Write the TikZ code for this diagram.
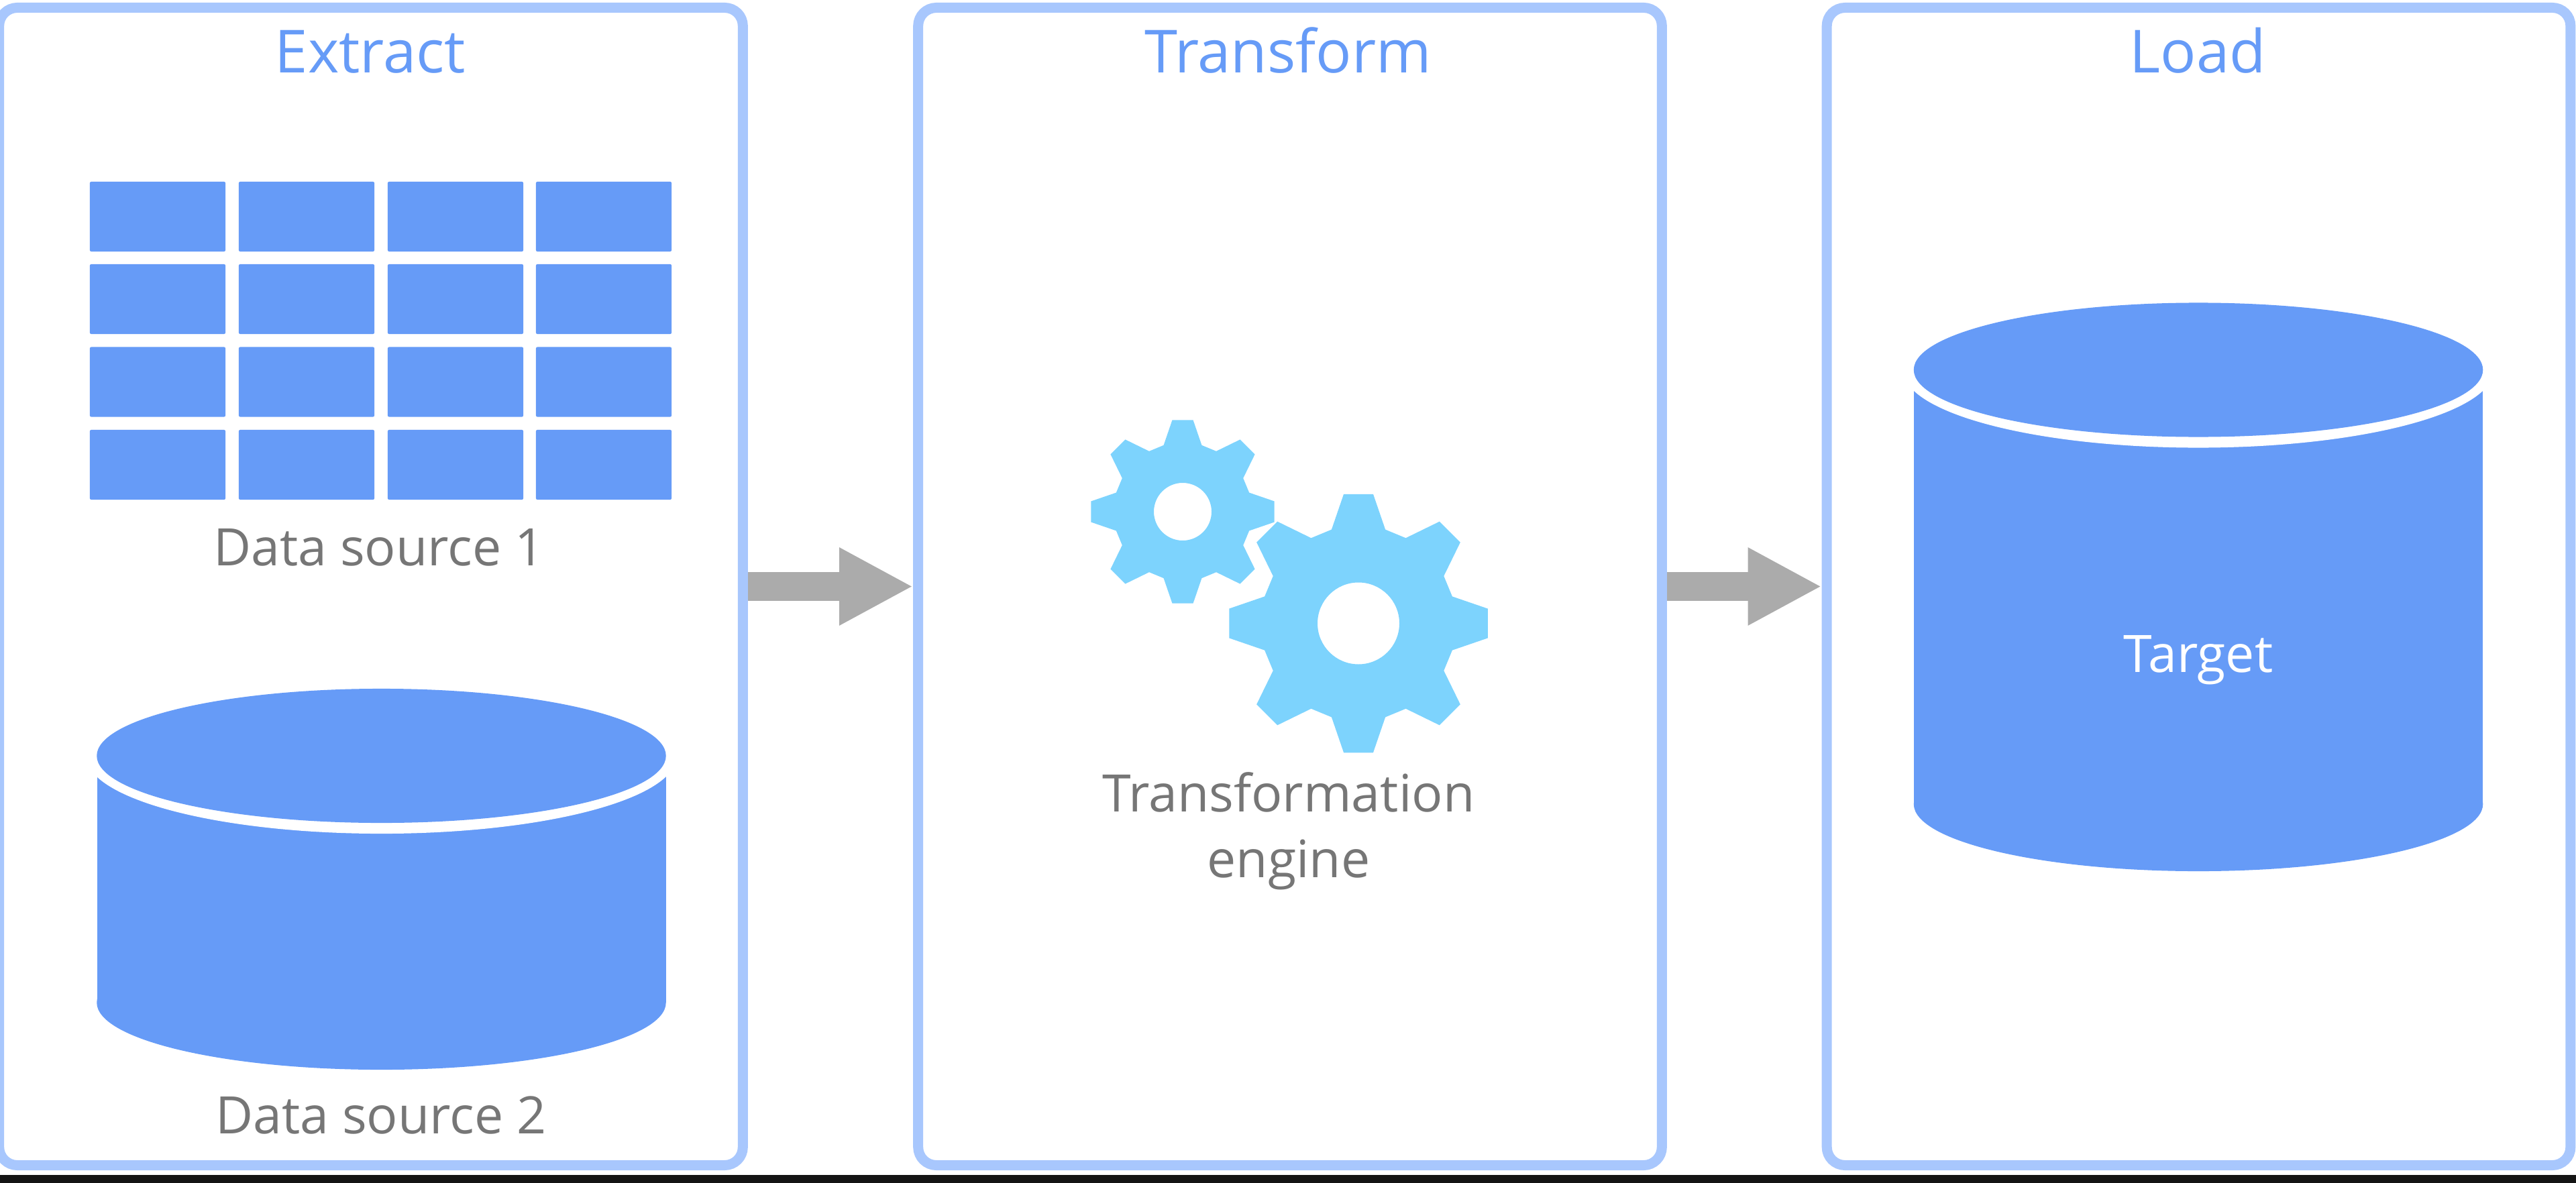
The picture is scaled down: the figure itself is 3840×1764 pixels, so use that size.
\documentclass[tikz,border=0pt]{standalone}
\usepackage{fontspec}
\setmainfont{Open Sans}
\usetikzlibrary{arrows.meta}
\definecolor{panelblue}{HTML}{A8C7FD}
\definecolor{fillblue}{HTML}{669BF7}
\definecolor{gearblue}{HTML}{7DD3FD}
\definecolor{arrowgray}{HTML}{ABABAB}
\definecolor{labelgray}{HTML}{767676}
\definecolor{barblack}{HTML}{141414}
\tikzset{
  panelbox/.style={draw=panelblue,line width=0.15cm,rounded corners=0.27cm,minimum width=11.08cm,minimum height=17.25cm,inner sep=0pt},
  cellbox/.style={fill=fillblue,rounded corners=0.02cm,minimum width=2.02cm,minimum height=1.04cm,inner sep=0pt},
  titlelabel/.style={text=fillblue,anchor=base,font=\fontsize{25.2}{30}\selectfont},
  bodylabel/.style={text=labelgray,anchor=base,align=center,font=\fontsize{21.9}{27.6}\selectfont},
  flowarrow/.style={arrowgray,line width=0.42cm,-{Triangle[length=1.1cm,width=1.08cm]}}
}
% cylinder: centre x, y of top ellipse, y of bottom ellipse
\newcommand{\dbcylinder}[3]{%
  \fill[fillblue] ({#1-424},#2) rectangle ({#1+424},#3);
  \fill[fillblue] (#1,#3) ellipse [x radius=4.24cm,y radius=1cm];
  \fill[white] (#1,#2) ellipse [x radius=4.4cm,y radius=1.16cm];
  \fill[fillblue] (#1,#2) ellipse [x radius=4.24cm,y radius=1cm];
}
% gear: centre x, centre y, outer radius, hole radius
\newcommand{\gearwheel}[4]{%
  \fill[gearblue,even odd rule,shift={(#1,#2)}] (-16:{0.75*#3})
    \foreach \a in {0,45,...,315}{ -- (\a-16:{0.75*#3}) -- (\a-6.5:#3) -- (\a+6.5:#3) -- (\a+16:{0.75*#3}) }
    -- cycle (0,0) circle [radius=#4];
}
\begin{document}
\begin{tikzpicture}[x=0.01cm,y=-0.01cm]
\useasboundingbox (0,0) rectangle (3840,1764);
% Bar along the bottom
\fill[barblack] (0,1752) rectangle (3840,1764);
% Panels
\node[panelbox] (extract) at (553,874.5) {};
\node[panelbox] (transform) at (1923,874.5) {};
\node[panelbox] (load) at (3277.5,874.5) {};
\node[titlelabel] (extracttitle) at (552,109) {Extract};
\node[titlelabel] (transformtitle) at (1920,109) {Transform};
\node[titlelabel] (loadtitle) at (3276,109) {Load};
% Arrows
\draw[flowarrow] (extract.east) -- (transform.west);
\draw[flowarrow] (transform.east) -- (load.west);
% Data source 1
\foreach \y/\r in {323/1,446/2,569.5/3,693/4}{
  \foreach \x/\c in {235/1,457/2,679/3,900/4}{
    \node[cellbox] (cell\r\c) at (\x,\y) {};
  }
}
\node[bodylabel] (sourceone) at (565,843) {Data source 1};
% Data source 2
\dbcylinder{568.5}{1127}{1495}
\node[bodylabel] (sourcetwo) at (568,1690) {Data source 2};
% Gears
\gearwheel{1763}{763}{137.5}{43}
\gearwheel{2025}{929.5}{194}{61}
\node[bodylabel] (engine) at (1921,1308) {Transformation\\engine};
% Target
\dbcylinder{3277}{551.5}{1199}
\node[bodylabel,text=white] (target) at (3277,1002) {Target};
\end{tikzpicture}
\end{document}
